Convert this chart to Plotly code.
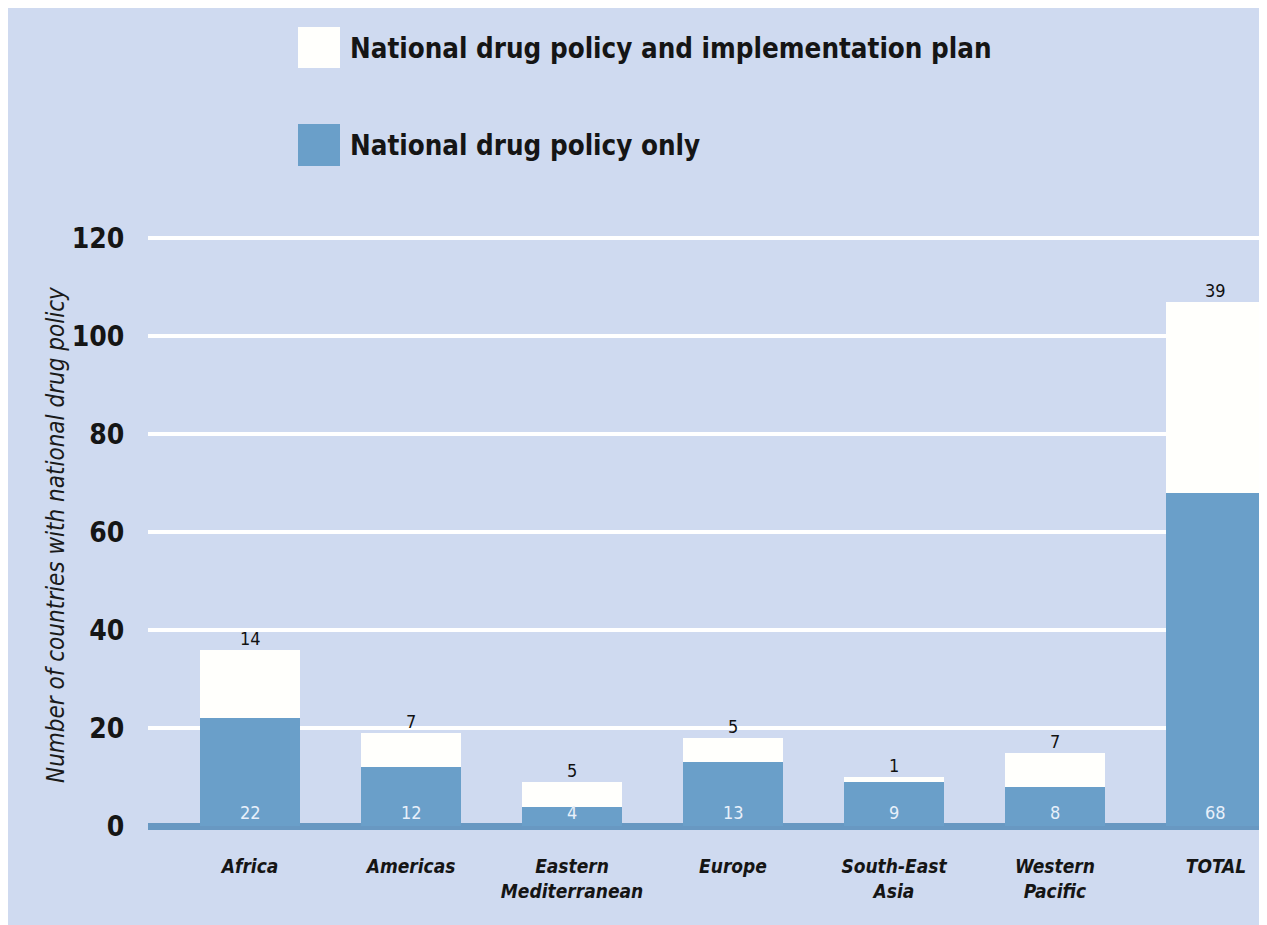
import plotly.graph_objects as go

regions = ["Africa", "Americas", "Eastern<br>Mediterranean", "Europe", "South-East<br>Asia", "Western<br>Pacific", "TOTAL"]
policy_only = [22, 12, 4, 13, 9, 8, 68]
policy_and_plan = [14, 7, 5, 5, 1, 7, 39]
legend_labels = ["National drug policy and implementation plan", "National drug policy only"]
y_ticks = [0, 20, 40, 60, 80, 100, 120]

BG = "#cfdaf0"
BLUE = "#6a9fc9"
FONT = "DejaVu Sans Condensed, Liberation Sans Narrow, sans-serif"

# figure sits inside the page's 8px body margin
OFF = 8
W, H = 1259, 917
L, R, T, B = 140, 0, 220, 89
PW, PH = W - L - R, H - T - B

def px(x):
    return (x - OFF - L) / PW

def py(y):
    return (H - B - (y - OFF)) / PH

xs = list(range(len(regions)))

fig = go.Figure()
fig.add_trace(go.Bar(x=xs, y=policy_only, marker=dict(color=BLUE, line=dict(width=0)),
                     width=0.62, name=legend_labels[1], showlegend=False, hoverinfo="skip"))
fig.add_trace(go.Bar(x=xs, y=policy_and_plan, marker=dict(color="#fffffc", line=dict(width=0)),
                     width=0.62, name=legend_labels[0], showlegend=False, hoverinfo="skip"))

annotations = []
for i, (a, b) in enumerate(zip(policy_only, policy_and_plan)):
    annotations.append(dict(x=i, y=a + b, xref="x", yref="y", text=str(b), showarrow=False,
                            yanchor="bottom", yshift=-1,
                            font=dict(family=FONT, size=18, color="#111111")))
    annotations.append(dict(x=i, y=0, xref="x", yref="y", text=str(a), showarrow=False,
                            yanchor="bottom", yshift=1,
                            font=dict(family=FONT, size=18, color="#e8f0fa")))

# Y axis title
annotations.append(dict(x=px(40), y=py(535), xref="paper", yref="paper",
                        text="<i>Number of countries with national drug policy</i>",
                        textangle=-90, showarrow=False,
                        font=dict(family=FONT, size=24, color="#1a1a1a")))

# Manual legend
shapes = []
legend_rows = [(27, 68, "#fffffc"), (124, 166, BLUE)]
for (top, bot, col), lab in zip(legend_rows, legend_labels):
    shapes.append(dict(type="rect", xref="paper", yref="paper",
                       x0=px(298), x1=px(340), y0=py(bot), y1=py(top),
                       fillcolor=col, line=dict(width=0)))
    annotations.append(dict(x=px(348), y=py((top + bot) / 2), xref="paper", yref="paper",
                            text="<b>" + lab + "</b>", showarrow=False,
                            xanchor="left", yanchor="middle",
                            font=dict(family=FONT, size=27.5, color="#151515")))

fig.update_layout(
    width=W, height=H,
    margin=dict(l=L, r=R, t=T, b=B),
    paper_bgcolor=BG, plot_bgcolor=BG,
    barmode="stack",
    shapes=shapes,
    annotations=annotations,
    xaxis=dict(range=[-0.634, 6.317], tickmode="array", tickvals=xs,
               ticktext=["<b><i>" + r + "</i></b>" for r in regions],
               showgrid=False, zeroline=False, showline=False,
               ticks="outside", ticklen=13, tickcolor="rgba(0,0,0,0)",
               tickfont=dict(family=FONT, size=19, color="#151515")),
    yaxis=dict(range=[-2, 122], tickmode="array", tickvals=y_ticks,
               ticktext=["<b>" + str(v) + "</b>" for v in y_ticks],
               showgrid=True, gridcolor="#ffffff", gridwidth=4,
               zeroline=True, zerolinecolor="#6898c2", zerolinewidth=7,
               showline=False,
               ticks="outside", ticklen=17, tickcolor="rgba(0,0,0,0)",
               tickfont=dict(family=FONT, size=28, color="#151515")),
)

fig.write_html("out.html")
